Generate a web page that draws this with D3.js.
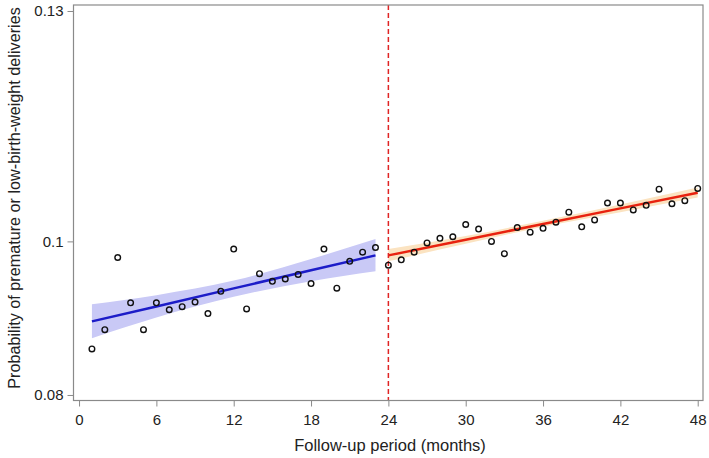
<!DOCTYPE html>
<html>
<head>
<meta charset="utf-8">
<script src="https://cdn.jsdelivr.net/npm/d3@7"></script>
<style>
  body { margin: 0; background: #fff; }
  svg { display: block; font-family: "Liberation Sans", Arial, Helvetica, sans-serif; }
  .axis text { font-size: 15px; fill: #222; }
  .axis line { stroke: #8a8a8a; }
</style>
</head>
<body>
<svg id="chart" width="709" height="458"></svg>
<script>
// observed monthly probabilities
var months = [1, 2, 3, 4, 5, 6, 7, 8, 9, 10, 11, 12, 13, 14, 15, 16, 17, 18, 19, 20, 21, 22, 23, 24,
  25, 26, 27, 28, 29, 30, 31, 32, 33, 34, 35, 36, 37, 38, 39, 40, 41, 42, 43, 44, 45, 46, 47, 48];
var observed = [0.0860, 0.0885, 0.0979, 0.0920, 0.0885, 0.0920, 0.0911, 0.0915, 0.0921, 0.0906, 0.0935, 0.0990,
  0.0912, 0.0958, 0.0948, 0.0951, 0.0957, 0.0945, 0.0990, 0.0939, 0.0974, 0.0986, 0.0992, 0.0969,
  0.0976, 0.0986, 0.0998, 0.1004, 0.1006, 0.1022, 0.1016, 0.1000, 0.0984, 0.1018, 0.1012, 0.1017,
  0.1025, 0.1038, 0.1019, 0.1028, 0.1050, 0.1050, 0.1041, 0.1047, 0.1068, 0.1049, 0.1053, 0.1069];

// fitted trend before the break (months 1-23)
var preMonths = [1, 6, 12, 18, 23];
var preFit = [0.08958, 0.09153, 0.09388, 0.09623, 0.09818];
var preLower = [0.0874, 0.0901, 0.0928, 0.0948, 0.0961];
var preUpper = [0.0918, 0.0930, 0.0949, 0.0977, 0.1003];

// fitted trend after the break (months 24-48)
var postMonths = [24, 30, 36, 42, 48];
var postFit = [0.09818, 0.10022, 0.10226, 0.1043, 0.10634];
var postLower = [0.0974, 0.0997, 0.1019, 0.1038, 0.1057];
var postUpper = [0.0990, 0.1007, 0.1027, 0.1048, 0.1070];

var xTicks = [0, 6, 12, 18, 24, 30, 36, 42, 48];
var yTicks = [0.08, 0.1, 0.13];
var breakMonth = 24;

function drawChart() {
  var svg = d3.select("#chart"),
    left = 73.5, right = 703, top = 5, bottom = 400.5;

  var x = d3.scaleLinear().domain([-0.43, 48.41]).range([left, right]);
  var y = d3.scaleLinear().domain([0.07928, 0.13078]).range([bottom, top]);

  function rows(ms, fit, lo, hi) {
    return ms.map(function (m, i) {
      return { m: m, fit: fit[i], lo: lo[i], hi: hi[i] };
    });
  }
  var pre = rows(preMonths, preFit, preLower, preUpper);
  var post = rows(postMonths, postFit, postLower, postUpper);

  var area = d3.area()
    .curve(d3.curveMonotoneX)
    .x(function (d) { return x(d.m); })
    .y0(function (d) { return y(d.lo); })
    .y1(function (d) { return y(d.hi); });

  var line = d3.line()
    .x(function (d) { return x(d.m); })
    .y(function (d) { return y(d.fit); });

  svg.append("path").datum(pre).attr("d", area).attr("fill", "#c9c9f6");
  svg.append("path").datum(post).attr("d", area).attr("fill", "#fbe3c1");

  svg.append("path").datum(pre).attr("d", line)
    .attr("fill", "none").attr("stroke", "#1c1cc8").attr("stroke-width", 2.5);
  svg.append("path").datum(post).attr("d", line)
    .attr("fill", "none").attr("stroke", "#e8220f").attr("stroke-width", 2.5);

  // break at 24 months
  svg.append("line")
    .attr("x1", x(breakMonth)).attr("x2", x(breakMonth))
    .attr("y1", top).attr("y2", bottom)
    .attr("stroke", "#e02424").attr("stroke-width", 1.5)
    .attr("stroke-dasharray", "5,3");

  svg.append("g")
    .selectAll("circle")
    .data(months)
    .enter()
    .append("circle")
    .attr("cx", function (d) { return x(d); })
    .attr("cy", function (d, i) { return y(observed[i]); })
    .attr("r", 2.8)
    .attr("fill", "none")
    .attr("stroke", "#111")
    .attr("stroke-width", 1.4);

  // frame
  svg.append("rect")
    .attr("x", left).attr("y", top)
    .attr("width", right - left).attr("height", bottom - top)
    .attr("fill", "none").attr("stroke", "#8a8a8a").attr("stroke-width", 1.2);

  var xAxis = svg.append("g")
    .attr("class", "axis")
    .attr("transform", "translate(0," + bottom + ")")
    .call(d3.axisBottom(x).tickValues(xTicks).tickSize(6).tickSizeOuter(0).tickPadding(8));
  xAxis.select(".domain").remove();

  var yAxis = svg.append("g")
    .attr("class", "axis")
    .attr("transform", "translate(" + left + ",0)")
    .call(d3.axisLeft(y).tickValues(yTicks).tickSize(6).tickSizeOuter(0).tickPadding(4)
      .tickFormat(function (d) { return String(d); }));
  yAxis.select(".domain").remove();

  svg.selectAll(".axis text").attr("font-family", null).attr("font-size", null);

  svg.append("text")
    .attr("x", 390).attr("y", 451)
    .attr("text-anchor", "middle")
    .style("font-size", "16.5px")
    .attr("fill", "#222")
    .text("Follow-up period (months)");

  svg.append("text")
    .attr("transform", "translate(19.5,198) rotate(-90)")
    .attr("text-anchor", "middle")
    .style("font-size", "16.2px")
    .attr("fill", "#222")
    .text("Probability of premature or low-birth-weight deliveries");
}

drawChart();
</script>
</body>
</html>
